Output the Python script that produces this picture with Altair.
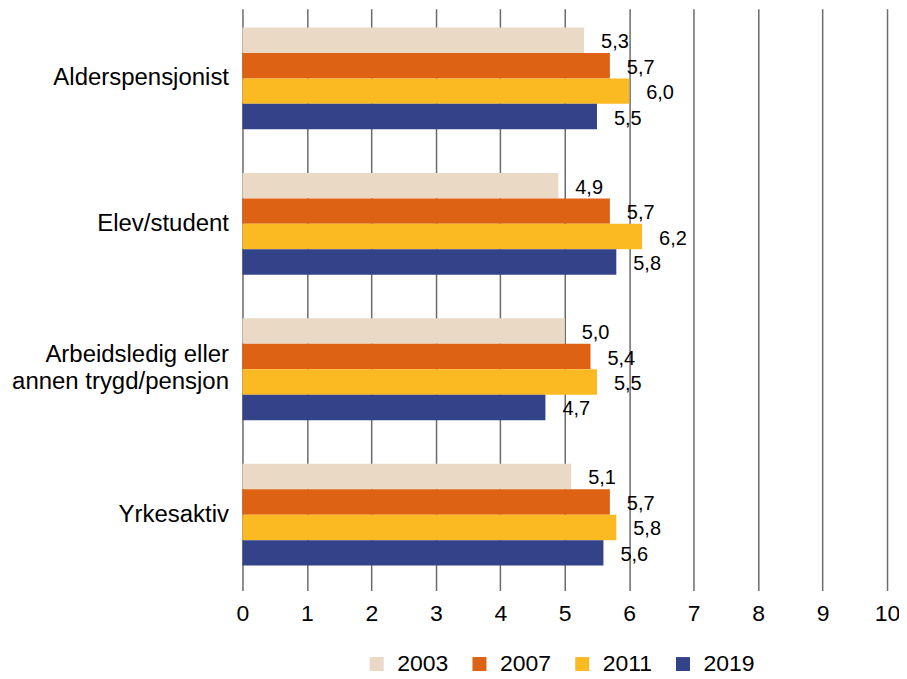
import altair as alt
import pandas as pd

categories = ["Alderspensjonist", "Elev/student", "Arbeidsledig eller|annen trygd/pensjon", "Yrkesaktiv"]
years = ["2003", "2007", "2011", "2019"]
v2003 = [5.3, 4.9, 5.0, 5.1]
v2007 = [5.7, 5.7, 5.4, 5.7]
v2011 = [6.0, 6.2, 5.5, 5.8]
v2019 = [5.5, 5.8, 4.7, 5.6]
colors = ["#E9D9C5", "#DD6213", "#FBBA21", "#334389"]
x_ticks = [0, 1, 2, 3, 4, 5, 6, 7, 8, 9, 10]

rows = []
for year, vals in zip(years, [v2003, v2007, v2011, v2019]):
    for cat, v in zip(categories, vals):
        rows.append({"category": cat, "year": year, "value": v,
                     "label": f"{v:.1f}".replace(".", ",")})
df = pd.DataFrame(rows)

FONT = "Liberation Sans"
two_line = categories[2]

y_enc = alt.Y("category:N", sort=categories,
              scale=alt.Scale(paddingInner=0.3, paddingOuter=0.15, align=0.43),
              axis=alt.Axis(title=None, ticks=False, domain=False, grid=False,
                            labelFont=FONT, labelFontSize=24, labelColor="black",
                            labelPadding=14, labelLineHeight=27, labelLimit=400,
                            labelOffset={"condition": {"test": f"datum.value === '{two_line}'",
                                                       "value": -14},
                                         "value": 0},
                            labelExpr="split(datum.label, '|')"))
yoff = alt.YOffset("year:N", sort=years, scale=alt.Scale(paddingInner=0, paddingOuter=0))
x_enc = alt.X("value:Q", scale=alt.Scale(domain=[0, 10], nice=False),
              axis=alt.Axis(title=None, values=x_ticks, ticks=False, domain=False,
                            grid=True, gridColor="#6b6b6b", gridWidth=1.5,
                            labelFont=FONT, labelFontSize=23, labelColor="black",
                            labelPadding=12, labelFlush=False, format="d"))

bars = alt.Chart(df).mark_bar().encode(
    y=y_enc, yOffset=yoff, x=x_enc,
    color=alt.Color("year:N", sort=years,
                    scale=alt.Scale(domain=years, range=colors),
                    legend=alt.Legend(title=None, orient="none", direction="horizontal",
                                      legendX=123, legendY=645,
                                      symbolType="square", symbolSize=196,
                                      symbolStrokeWidth=0, labelOffset=9,
                                      columnPadding=19, padding=0,
                                      labelFont=FONT, labelFontSize=23,
                                      labelColor="black")),
)

labels = alt.Chart(df).mark_text(align="left", baseline="middle", dx=17, dy=2,
                                 font=FONT, fontSize=20, color="black").encode(
    y=alt.Y("category:N", sort=categories), yOffset=yoff,
    x=alt.X("value:Q"), text="label:N")

chart = (bars + labels).properties(
    width=646, height=583,
    autosize=alt.AutoSizeParams(type="none"),
    padding={"left": 235, "top": 0, "right": 12, "bottom": 88},
).configure_view(strokeWidth=0)

chart.save("out.html", embed_options={"renderer": "svg", "actions": False})
